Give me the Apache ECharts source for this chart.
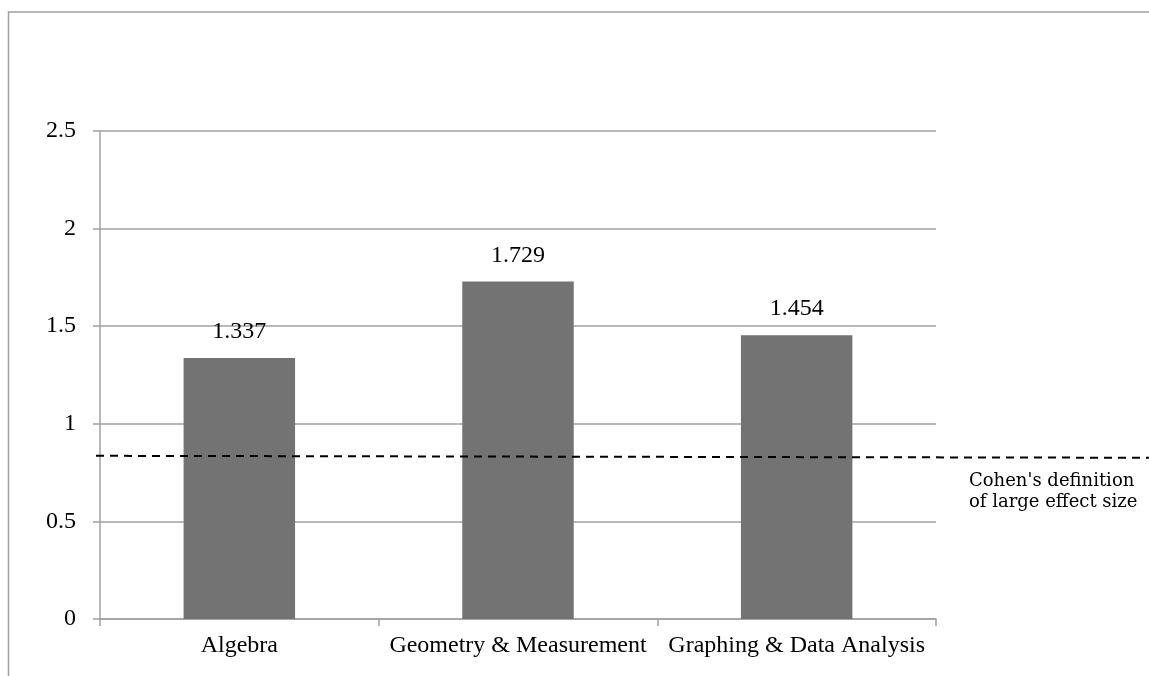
<!DOCTYPE html>
<html>
<head>
<meta charset="utf-8">
<script src="https://cdn.jsdelivr.net/npm/echarts@6/dist/echarts.min.js"></script>
<style>
  html, body { margin: 0; padding: 0; background: #ffffff; }
  #chart { width: 1149px; height: 676px; }
</style>
</head>
<body>
<div id="chart"></div>
<script>
// Effect sizes by content strand
const categories = ['Algebra', 'Geometry & Measurement', 'Graphing & Data Analysis'];
const effectSizes = [1.337, 1.729, 1.454];

// Reference line for a large effect (two end points across the plot)
const cohenLine = [[0, 0.836], [1, 0.826]];
const cohenText = "Cohen's definition\nof large effect size";

// Value axis ticks
const yTicks = [0, 0.5, 1, 1.5, 2, 2.5];

const gridColor = '#a0a0a0';
const serif = '"Liberation Serif", "Times New Roman", serif';

const chart = echarts.init(document.getElementById('chart'), null, { renderer: 'canvas' });

chart.setOption({
  animation: false,
  backgroundColor: '#ffffff',
  grid: [
    { left: 100, right: 213, top: 131, bottom: 57, containLabel: false },
    { left: 96, right: 0, top: 131, bottom: 57, containLabel: false }
  ],
  xAxis: [
    {
      type: 'category',
      gridIndex: 0,
      data: categories,
      axisLine: { show: true, lineStyle: { color: gridColor, width: 1.5 } },
      axisTick: { show: true, length: 7, alignWithLabel: false, lineStyle: { color: gridColor, width: 1.5 } },
      axisLabel: { color: '#000000', fontFamily: serif, fontSize: 24, margin: 15, interval: 0 },
      splitLine: { show: false }
    },
    {
      type: 'value',
      gridIndex: 1,
      min: 0,
      max: 1,
      show: false
    }
  ],
  yAxis: [
    {
      type: 'value',
      gridIndex: 0,
      min: yTicks[0],
      max: yTicks[yTicks.length - 1],
      interval: yTicks[1] - yTicks[0],
      axisLine: { show: true, lineStyle: { color: gridColor, width: 1.5 } },
      axisTick: { show: true, length: 7, lineStyle: { color: gridColor, width: 1.5 } },
      axisLabel: { color: '#000000', fontFamily: serif, fontSize: 24, margin: 24 },
      splitLine: { show: true, lineStyle: { color: gridColor, width: 1.5 } }
    },
    {
      type: 'value',
      gridIndex: 1,
      min: yTicks[0],
      max: yTicks[yTicks.length - 1],
      show: false
    }
  ],
  series: [
    {
      type: 'bar',
      xAxisIndex: 0,
      yAxisIndex: 0,
      data: effectSizes,
      barCategoryGap: '60%',
      itemStyle: { color: '#737373' },
      label: {
        show: true,
        position: 'top',
        distance: 14,
        color: '#000000',
        fontFamily: serif,
        fontSize: 24,
        formatter: p => p.value.toFixed(3)
      },
      z: 2
    },
    {
      type: 'line',
      xAxisIndex: 1,
      yAxisIndex: 1,
      data: cohenLine,
      symbol: 'none',
      silent: true,
      lineStyle: { color: '#000000', width: 2, type: [8, 6] },
      z: 5
    }
  ],
  graphic: [
    {
      type: 'rect',
      silent: true,
      shape: { x: 8.5, y: 12, width: 1400, height: 900 },
      style: { fill: 'none', stroke: gridColor, lineWidth: 1.5 },
      z: 0
    },
    {
      type: 'text',
      silent: true,
      left: 969,
      top: 471,
      style: {
        text: cohenText,
        fill: '#000000',
        font: '18px "DejaVu Serif", serif',
        lineHeight: 21
      }
    }
  ]
});
</script>
</body>
</html>
